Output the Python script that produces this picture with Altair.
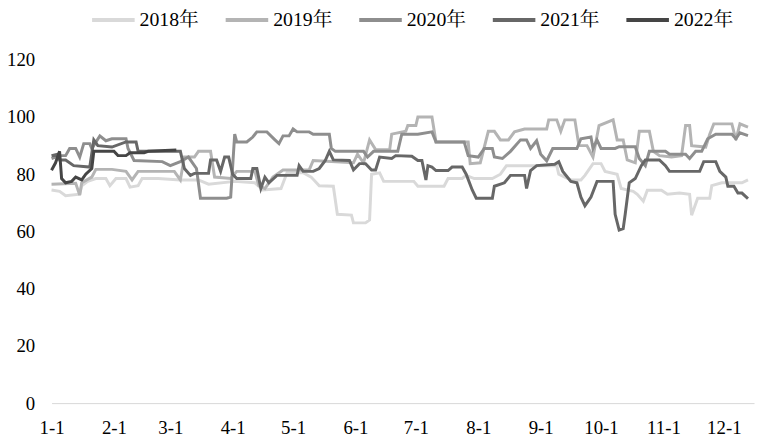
import altair as alt
import pandas as pd

years = ["2018年", "2019年", "2020年", "2021年", "2022年"]
colors = ["#d9d9d9", "#b4b4b4", "#8e8e8e", "#676767", "#454545"]

tick_days = [0, 31, 59, 90, 120, 151, 181, 212, 243, 273, 304, 334]
tick_labels = ["1-1", "2-1", "3-1", "4-1", "5-1", "6-1", "7-1", "8-1", "9-1", "10-1", "11-1", "12-1"]
y_ticks = [0, 20, 40, 60, 80, 100, 120]

# (day of year offset from 1-1, value)
s2018 = [(0,74.5),(4,74),(7,72.5),(14,73),(15,76),(18,77.5),(22,78.5),(27,78.5),(29,76),(32,78.5),
         (37,78.5),(39,75.5),(43,76),(45,78.5),(53,78.5),(64,78),(73,78),(78,76.5),(91,77.5),(101,77),
         (105,74.5),(114,75),(117,80.5),(125,80.5),(129,79),(133,76),(140,75.8),(142,66),(149,65.7),(150,63),
         (156,63),(158,64),(159,80),(163,80.5),(165,77.5),(176,77.5),(180,77.5),(182,75.8),(195,75.8),(197,78.5),
         (204,78.5),(206,79.6),(210,78.5),(219,78.5),(223,80),(226,83),(251,83),(252,80),(258,78),(263,78),
         (265,79.6),(269,83.7),(273,83.7),(275,81),(281,80),(283,75),(289,74),(291,73),(294,70.6),(296,74.4),
         (303,74.4),(306,73),(312,73.4),(317,73),(318,65.7),(321,71.6),(327,71.6),(328,76),(333,77),(343,77),
         (346,78)]

s2019 = [(0,76.5),(12,76.8),(14,72.7),(15,77),(20,79),(22,81.7),(30,81.7),(37,81),(40,78),(43,81),
         (61,81),(64,78),(66,86),(71,86),(73,88),(79,88),(81,79),(89,78.5),(92,81),(101,81),
         (103,76),(106,75),(110,79),(115,81.5),(128,81.5),(130,84.8),(150,84),(152,87),(155,84),(158,92),
         (161,88.6),(168,88.6),(169,94),(176,95),(177,97),(181,97),(182,100),(189,100),(191,91.3),(207,91.3),
         (208,83.7),(213,84),(217,95),(220,95),(223,92),(227,92),(230,94.8),(235,95.8),(246,95.8),(247,99),
         (251,99),(253,95),(255,99),(260,99),(262,90),(266,90),(269,86),(272,97),(279,99),(281,92),
         (284,92),(286,85),(290,84),(292,95),(297,95),(299,88),(302,86.5),(308,86),(313,86.5),(315,97),
         (317,97),(318,90),(325,89.5),(327,94),(329,97.6),(338,97.6),(340,92),(342,97.6),(346,96.5)]

s2020 = [(0,85.5),(4,86.5),(7,86.5),(9,89),(12,89),(14,86),(16,90.7),(19,90.7),(20,89),(24,93.4),
         (27,91.7),(30,92.4),(37,92.4),(38,89),(41,84.8),(55,84.4),(59,83),(64,84.4),(68,86),(72,82),
         (74,71.6),(87,71.6),(89,72),(91,94),(92,91.3),(97,91.3),(100,93),(102,94.8),(107,94.8),(111,92),
         (113,90.7),(115,93.4),(118,93.4),(120,95.8),(122,94.8),(128,94.8),(130,94),(138,94),(139,89),(141,88),
         (155,88),(157,86),(160,88),(172,88),(174,94),(182,94),(189,94.8),(191,91.3),(205,91.3),(207,86.5),
         (212,86),(215,89),(219,89),(220,86),(224,85.5),(228,88),(233,92),(236,92),(238,89),(241,91.7),
         (243,87),(246,84.7),(249,89),(261,89),(263,92.4),(268,93),(269,89),(271,92),(273,89),(280,89),
         (282,89.6),(290,89.6),(292,85.5),(295,83),(297,88),(305,88),(307,87),(315,87),(317,85.5),(320,88),
         (323,88),(326,92.4),(330,94),(338,94),(340,92.4),(342,94.5),(346,93.5)]

s2021 = [(0,86.5),(3,87),(4,85),(7,85),(11,83),(19,82.5),(21,92),(23,90),(30,89.5),(37,91.3),
         (42,91.3),(43,88),(64,88),(66,82),(69,79.6),(71,80.3),(78,80.3),(79,85),(82,85),(84,81),
         (86,86),(88,86),(90,80),(92,78.5),(99,78.5),(100,82),(102,82),(104,75),(106,79),(108,77),
         (112,79.6),(122,79.6),(123,83),(125,81),(130,81),(133,82),(136,84.8),(138,88),(140,85),(148,84.8),
         (150,81.5),(153,83.7),(156,83.7),(159,81.5),(161,81.5),(163,86),(169,85.5),(171,86.5),(179,86.3),(182,84.8),
         (184,84.8),(186,78),(187,83),(189,82.5),(191,81.3),(197,81.3),(199,82.5),(204,82.5),(206,80),(209,74.5),
         (211,71.6),(219,71.6),(220,75.8),(225,77),(228,79.6),(235,79.6),(236,75),(238,81.3),(241,83),(250,83.5),
         (252,84.4),(254,81),(258,77.5),(261,77),(263,72),(265,69),(268,72),(271,77.5),(279,77.5),(280,66),
         (282,60.5),(284,61),(285,66),(287,77),(290,78.5),(293,83),(295,85),(302,85),(305,83),(307,81),
         (322,81),(324,84.4),(330,84.4),(332,81),(335,79),(336,75.8),(339,75.8),(341,73.4),(343,73.4),(346,71.5)]

s2022 = [(0,81.4),(2,84),(4,88),(5,78.5),(7,77),(10,77.5),(12,79),(15,78),(17,80),(20,82),
         (21,88),(31,88),(33,86.5),(37,86.5),(39,87.5),(46,87.5),(48,88),(62,88.5)]

series = [s2018, s2019, s2020, s2021, s2022]
rows = []
for order, (yr, pts) in enumerate(zip(years, series)):
    for d, v in pts:
        rows.append({"year": yr, "day": d, "value": v, "ord": order})
df = pd.DataFrame(rows)

font = "Liberation Serif, Noto Serif CJK SC, Noto Sans CJK SC"
label_expr = ("[" + ",".join("'%s'" % t for t in tick_labels) + "][indexof(["
              + ",".join(str(t) for t in tick_days) + "], datum.value)]")

chart = alt.Chart(df).mark_line(strokeWidth=3, interpolate="linear").encode(
    x=alt.X("day:Q",
            scale=alt.Scale(domain=[0, 349], nice=False, zero=False),
            axis=alt.Axis(values=tick_days, labelExpr=label_expr, title=None, grid=False,
                          ticks=False, domainColor="#d9d9d9", domainWidth=1,
                          labelFontSize=19, labelFont=font, labelColor="#000",
                          labelPadding=16, labelFlush=False, labelOverlap=False)),
    y=alt.Y("value:Q",
            scale=alt.Scale(domain=[0, 120], nice=False),
            axis=alt.Axis(values=y_ticks, title=None, grid=False, ticks=False, domain=False,
                          labelFontSize=19, labelFont=font, labelColor="#000",
                          labelPadding=17, labelOverlap=False)),
    color=alt.Color("year:N",
                    scale=alt.Scale(domain=years, range=colors),
                    legend=alt.Legend(title=None, orient="none", legendX=39, legendY=-64,
                                      direction="horizontal", columns=5,
                                      symbolType="stroke", symbolSize=1849, symbolStrokeWidth=4,
                                      labelFontSize=20, labelFont=font, labelColor="#000",
                                      labelOffset=3, columnPadding=19, padding=0)),
    order=alt.Order("ord:Q"),
).properties(
    width=710, height=347,
    padding={"left": 44, "top": 50, "right": 2, "bottom": 40},
    autosize="none",
).configure_view(stroke=None)

chart.save("out.html", embed_options={"renderer": "svg", "actions": False})
